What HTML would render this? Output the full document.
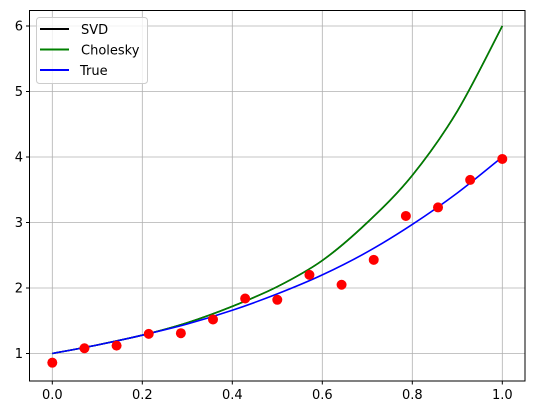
<!DOCTYPE html>
<html><head><meta charset="utf-8"><style>
html,body{margin:0;padding:0;background:#fff;}
svg{display:block;font-family:"DejaVu Sans","Liberation Sans",sans-serif;}
</style></head><body>
<svg id="chart" width="534" height="413" viewBox="0 0 534 413">
<rect x="0" y="0" width="534" height="413" fill="#fff"/>
<g id="grid"></g>
<g id="series"></g>
<rect x="29.5" y="10.5" width="495.5" height="370.5" fill="none" stroke="#000" stroke-width="1"/>
<g id="ticks"></g>
<g>
<rect x="36.5" y="17.5" width="111" height="66" rx="3" fill="#fff" fill-opacity="0.8" stroke="#ccc"/>
<line x1="40" y1="29" x2="69" y2="29" stroke="#000" stroke-width="2"/>
<text x="81" y="34" font-size="13">SVD</text>
<line x1="40" y1="49.5" x2="69" y2="49.5" stroke="#008000" stroke-width="2"/>
<text x="81" y="54.5" font-size="13">Cholesky</text>
<line x1="40" y1="70" x2="69" y2="70" stroke="#0000ff" stroke-width="2"/>
<text x="80" y="75" font-size="13">True</text>
</g>
</svg>
<script>
const curveX = [0,0.1,0.2,0.3,0.4,0.5,0.6,0.7,0.8,0.9,1.0];
const svdY = [1.0,1.13,1.28,1.47,1.72,2.02,2.42,3.0,3.72,4.7,6.0];
const choleskyY = [1.0,1.13,1.28,1.47,1.72,2.02,2.42,3.0,3.72,4.7,6.0];
const trueY = [1.0,1.13,1.28,1.45,1.66,1.91,2.2,2.55,2.97,3.45,4.0];
const pointX = [0,1/14,2/14,3/14,4/14,5/14,6/14,7/14,8/14,9/14,10/14,11/14,12/14,13/14,1];
const pointY = [0.86,1.08,1.12,1.30,1.31,1.52,1.84,1.82,2.20,2.05,2.43,3.10,3.23,3.65,3.97];
const xTicks = [0,0.2,0.4,0.6,0.8,1.0];
const xTickLabels = ["0.0","0.2","0.4","0.6","0.8","1.0"];
const yTicks = [1,2,3,4,5,6];
const yTickLabels = ["1","2","3","4","5","6"];

const NS="http://www.w3.org/2000/svg";
function sx(v){return 52.3+450*v;}
function sy(v){return 353.5-65.5*(v-1);}
const grid=document.getElementById('grid'), ticks=document.getElementById('ticks'), series=document.getElementById('series');
function mk(tag,attrs,parent){const e=document.createElementNS(NS,tag);for(const k in attrs)e.setAttribute(k,attrs[k]);parent.appendChild(e);return e;}
xTicks.forEach((t,i)=>{
  const g=mk('line',{x1:sx(t),x2:sx(t),y1:10.5,y2:381,stroke:'#b0b0b0','stroke-width':0.8},grid);
  
  
  const tk=mk('line',{x1:sx(t),x2:sx(t),y1:381,y2:384.5,stroke:'#000'},ticks);
  
  
  const tx=mk('text',{x:sx(t),y:399,'font-size':13,'text-anchor':'middle'},ticks);
  tx.textContent=xTickLabels[i];
  
  
});
yTicks.forEach((t,i)=>{
  const g=mk('line',{x1:29.5,x2:525,y1:sy(t),y2:sy(t),stroke:'#b0b0b0','stroke-width':0.8},grid);
  
  
  const tk=mk('line',{x1:26,x2:29.5,y1:sy(t),y2:sy(t),stroke:'#000'},ticks);
  
  
  const tx=mk('text',{x:23,y:sy(t)+4.5,'font-size':13,'text-anchor':'end'},ticks);
  tx.textContent=yTickLabels[i];
  
  
});
function smoothPath(xs,ys){
  const p=xs.map((x,i)=>[sx(x),sy(ys[i])]);
  let d='M'+p[0][0]+','+p[0][1];
  for(let i=0;i<p.length-1;i++){
    const p0=p[i-1]||p[i],p1=p[i],p2=p[i+1],p3=p[i+2]||p2;
    const c1=[p1[0]+(p2[0]-p0[0])/6,p1[1]+(p2[1]-p0[1])/6];
    const c2=[p2[0]-(p3[0]-p1[0])/6,p2[1]-(p3[1]-p1[1])/6];
    d+=' C'+c1+' '+c2+' '+p2;
  }
  return d;
}
const svd=mk('path',{d:smoothPath(curveX,svdY),fill:'none',stroke:'#000','stroke-width':1.6},series);


const chol=mk('path',{d:smoothPath(curveX,choleskyY),fill:'none',stroke:'#008000','stroke-width':1.6},series);


const tr=mk('path',{d:smoothPath(curveX,trueY),fill:'none',stroke:'#0000ff','stroke-width':1.6},series);


pointX.forEach((x,i)=>{
  const c=mk('circle',{cx:sx(x),cy:sy(pointY[i]),r:5,fill:'#ff0000'},series);
  
  
});
</script>
</body></html>
